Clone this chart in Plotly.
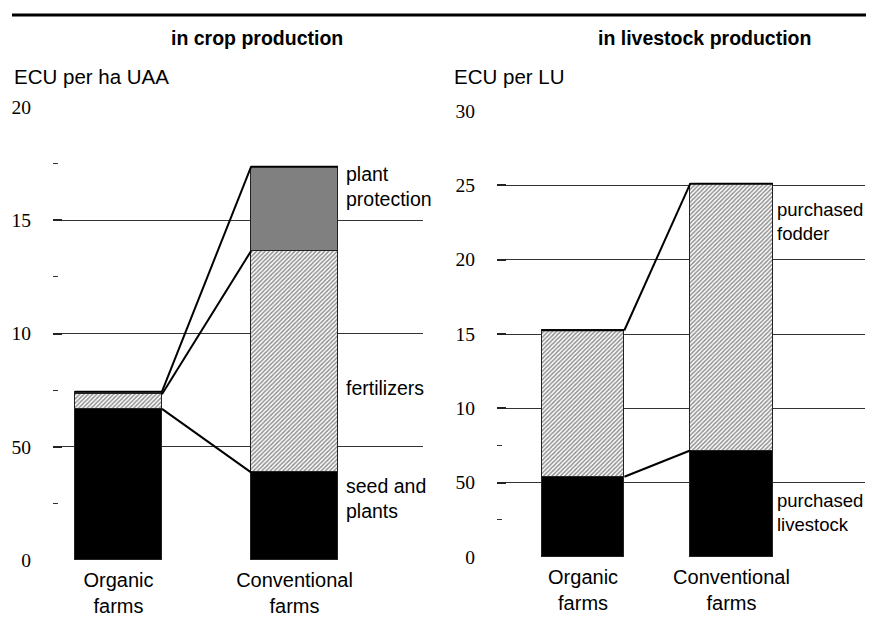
import plotly.graph_objects as go

# ---------------- data ----------------
categories = ["Organic<br>farms", "Conventional<br>farms"]

# crop production, ECU per ha UAA
crop_seed = [6.67, 3.87]
crop_fert = [0.65, 9.77]
crop_plant = [0.11, 3.72]
crop_tickvals = [0, 5, 10, 15, 20]
crop_ticktext = ["0", "50", "10", "15", "20"]
crop_minor = [2.5, 7.5, 12.5, 17.5]

# livestock production, ECU per LU
live_livestock = [5.4, 7.16]
live_fodder = [9.85, 17.94]
live_tickvals = [0, 5, 10, 15, 20, 25, 30]
live_ticktext = ["0", "50", "10", "15", "20", "25", "30"]
live_minor = [2.5, 7.5]

# ---------------- figure ----------------
# page body has an 8px margin, so the figure is 8px smaller and all pixel
# positions are expressed relative to the figure's own corner
W, H = 866, 609
OFF = 8
def px(xp):
    return (xp - OFF) / W
def py(yp):
    return 1 - (yp - OFF) / H

xpos = list(range(len(categories)))
wl, wr = 0.494, 0.557

def cum(*series):
    out = []
    run = [0] * len(series[0])
    for s in series:
        run = [a + b for a, b in zip(run, s)]
        out.append(run)
    return out

fig = go.Figure()
edge = dict(color="#222", width=1)
hatch = dict(shape="/", size=3, solidity=0.5, fgcolor="#222", bgcolor="white", fillmode="overlay")

fig.add_trace(go.Bar(x=xpos, y=crop_seed, width=wl, marker=dict(color="black", line=edge), xaxis="x", yaxis="y"))
fig.add_trace(go.Bar(x=xpos, y=crop_fert, width=wl, marker=dict(color="white", pattern=hatch, line=edge), xaxis="x", yaxis="y"))
fig.add_trace(go.Bar(x=xpos, y=crop_plant, width=wl, marker=dict(color="#808080", line=edge), xaxis="x", yaxis="y"))

fig.add_trace(go.Bar(x=xpos, y=live_livestock, width=wr, marker=dict(color="black", line=edge), xaxis="x2", yaxis="y2"))
fig.add_trace(go.Bar(x=xpos, y=live_fodder, width=wr, marker=dict(color="white", pattern=hatch, line=edge), xaxis="x2", yaxis="y2"))

# connector lines between stacks
for c in cum(crop_seed, crop_fert, crop_plant):
    fig.add_trace(go.Scatter(x=[xpos[0] + wl / 2, xpos[1] - wl / 2], y=c, mode="lines",
                             line=dict(color="black", width=2), xaxis="x", yaxis="y"))
for c in cum(live_livestock, live_fodder):
    fig.add_trace(go.Scatter(x=[xpos[0] + wr / 2, xpos[1] - wr / 2], y=c, mode="lines",
                             line=dict(color="black", width=2), xaxis="x2", yaxis="y2"))
# bar top outline
tc = cum(crop_seed, crop_fert, crop_plant)[-1]
tl = cum(live_livestock, live_fodder)[-1]
for i in xpos:
    fig.add_trace(go.Scatter(x=[i - wl / 2, i + wl / 2], y=[tc[i], tc[i]], mode="lines",
                             line=dict(color="black", width=2), xaxis="x", yaxis="y"))
    fig.add_trace(go.Scatter(x=[i - wr / 2, i + wr / 2], y=[tl[i], tl[i]], mode="lines",
                             line=dict(color="black", width=2), xaxis="x2", yaxis="y2"))

sans = "Liberation Sans, Arial, sans-serif"
serif = "Liberation Serif, Times New Roman, serif"

def yax(domain, rng, tv, tt, minor):
    return dict(domain=domain, range=rng, tickmode="array", tickvals=tv, ticktext=tt,
                showgrid=True, gridcolor="#333", gridwidth=1, zeroline=False, showline=False,
                ticks="inside", ticklen=9, tickwidth=2, tickcolor="#222",
                minor=dict(tickmode="array", tickvals=minor, ticks="inside", ticklen=5,
                           tickwidth=1, tickcolor="#333", showgrid=False),
                tickfont=dict(family=serif, size=19.5, color="black"), ticklabelstandoff=21,
                automargin=False, fixedrange=True)

def xax(domain, rng, anchor):
    return dict(domain=domain, range=rng, tickmode="array", tickvals=xpos, ticktext=categories,
                showgrid=False, zeroline=False, showline=False, ticks="", anchor=anchor,
                tickfont=dict(family=sans, size=20, color="black"), ticklabelstandoff=6,
                automargin=False, fixedrange=True)

fig.update_layout(
    width=W, height=H, margin=dict(l=0, r=0, t=0, b=0, pad=0, autoexpand=False),
    paper_bgcolor="white", plot_bgcolor="white", showlegend=False,
    barmode="stack", bargap=0,
    font=dict(family=sans, color="black"),
    xaxis=xax([px(53), px(423)], [-0.372, 1.73], "y"),
    yaxis=yax([py(560), py(107)], [0, 20], crop_tickvals, crop_ticktext, crop_minor),
    xaxis2=xax([px(497), px(865)], [-0.58, 1.90], "y2"),
    yaxis2=yax([py(557), py(111)], [0, 30], live_tickvals, live_ticktext, live_minor),
)
fig.layout.yaxis.anchor = "x"
fig.layout.yaxis2.anchor = "x2"

fig.add_shape(type="line", xref="paper", yref="paper", x0=px(12), x1=1, y0=py(15), y1=py(15),
              line=dict(color="black", width=3))

ann = []
ann.append(dict(text="<b>in crop production</b>", x=px(257), y=py(38), xref="paper", yref="paper",
                xanchor="center", yanchor="middle", showarrow=False, font=dict(size=19.5, family=sans)))
ann.append(dict(text="<b>in livestock production</b>", x=px(704), y=py(38), xref="paper", yref="paper",
                xanchor="center", yanchor="middle", showarrow=False, font=dict(size=19.5, family=sans)))
ann.append(dict(text="ECU per ha UAA", x=px(12), y=py(77), xref="paper", yref="paper", xanchor="left",
                yanchor="middle", showarrow=False, font=dict(size=20.5, family=sans)))
ann.append(dict(text="ECU per LU", x=px(452), y=py(77), xref="paper", yref="paper", xanchor="left",
                yanchor="middle", showarrow=False, font=dict(size=20.5, family=sans)))

seg_left = [("plant<br>protection", 16.47), ("fertilizers", 7.6), ("seed and<br>plants", 2.7)]
for t, yv in seg_left:
    ann.append(dict(text=t, x=xpos[1] + wl / 2, y=yv, xref="x", yref="y", xanchor="left", yanchor="middle",
                    xshift=6, showarrow=False, align="left", font=dict(size=19.5, family=sans)))
seg_right = [("purchased<br>fodder", 22.6), ("purchased<br>livestock", 3.0)]
for t, yv in seg_right:
    ann.append(dict(text=t, x=xpos[1] + wr / 2, y=yv, xref="x2", yref="y2", xanchor="left", yanchor="middle",
                    xshift=2, showarrow=False, align="left", font=dict(size=18.5, family=sans)))
fig.update_layout(annotations=ann)

fig.write_html("out.html")
